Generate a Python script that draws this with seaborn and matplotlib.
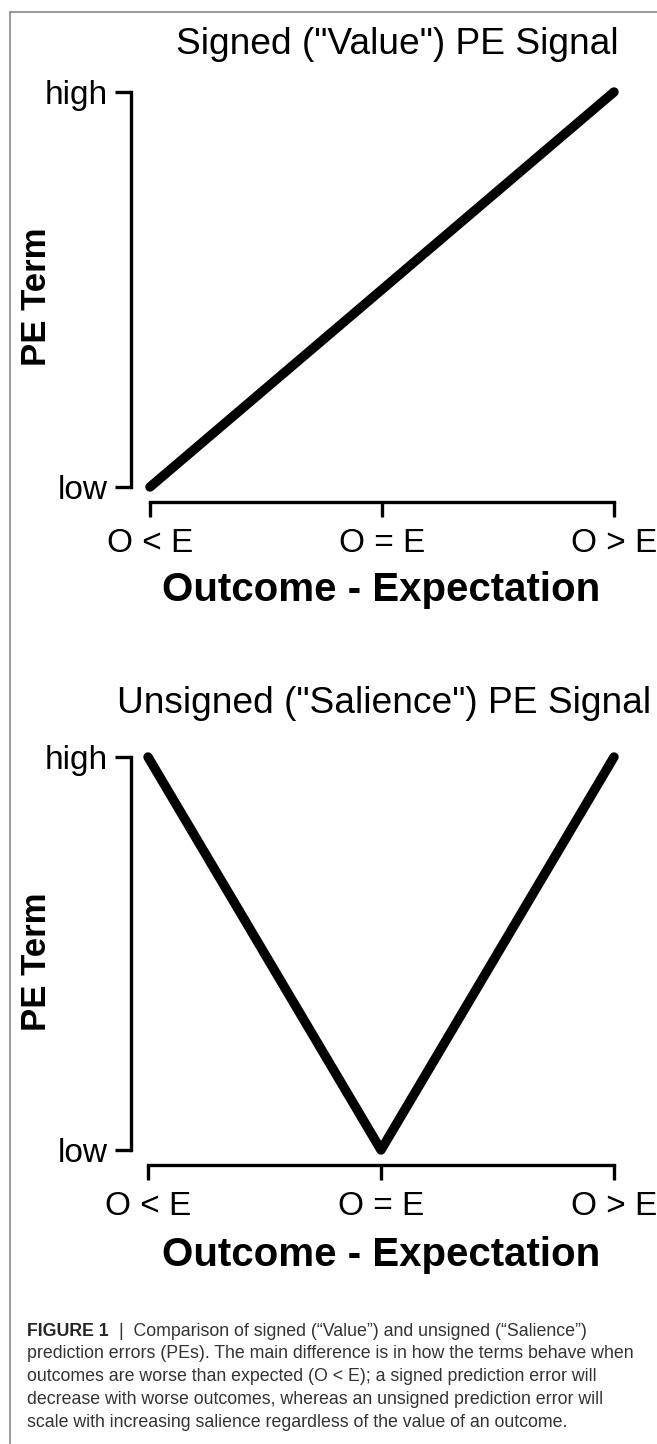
import matplotlib
matplotlib.use("Agg")
import matplotlib.pyplot as plt
from matplotlib.lines import Line2D
import seaborn as sns
import pandas as pd

# data
outcome_pos = [-1, 0, 1]
outcome_labels = ["O < E", "O = E", "O > E"]
signed_pe = [0.0, 0.5, 1.0]
unsigned_pe = [1.0, 0.0, 1.0]
pe_ticks = [0, 1]
pe_labels = ["low", "high"]

titles = ['Signed ("Value") PE Signal', 'Unsigned ("Salience") PE Signal']
caption_lines = [
    "prediction errors (PEs). The main difference is in how the terms behave when",
    "outcomes are worse than expected (O < E); a signed prediction error will",
    "decrease with worse outcomes, whereas an unsigned prediction error will",
    "scale with increasing salience regardless of the value of an outcome.",
]

sns.set_style("white")
plt.rcParams["font.family"] = ["Liberation Sans", "DejaVu Sans"]
plt.rcParams["text.color"] = "black"
plt.rcParams["axes.labelcolor"] = "black"

W, H = 657, 1444
fig = plt.figure(figsize=(W / 100, H / 100), dpi=100)


def fx(px):
    return px / W


def fy(py):
    return 1 - py / H


def panel(left, right, top, bottom, values, title, title_xy, xlabel_y, ylabel_y, off_left):
    ax = fig.add_axes([fx(left), fy(bottom), fx(right) - fx(left), fy(top) - fy(bottom)])
    df = pd.DataFrame({"x": outcome_pos, "y": values})
    sns.lineplot(data=df, x="x", y="y", ax=ax, color="black", linewidth=6.8,
                 solid_capstyle="round", solid_joinstyle="round", clip_on=False)
    ax.set_xlim(-1, 1)
    ax.set_ylim(0, 1)
    sns.despine(ax=ax)
    ax.spines["left"].set_position(("outward", off_left * 0.72))
    ax.spines["bottom"].set_position(("outward", 15 * 0.72))
    ax.spines["left"].set_bounds(0, 1)
    ax.spines["bottom"].set_bounds(-1, 1)
    for s in ("left", "bottom"):
        ax.spines[s].set_linewidth(2.4)
        ax.spines[s].set_color("black")
        ax.spines[s].set_capstyle("projecting")
    ax.set_xticks(outcome_pos)
    ax.set_xticklabels(outcome_labels)
    ax.set_yticks(pe_ticks)
    ax.set_yticklabels(pe_labels)
    ax.tick_params(axis="both", direction="out", width=2.4, color="black",
                   labelsize=24, labelcolor="black", bottom=True, left=True)
    ax.tick_params(axis="x", length=11, pad=8)
    ax.tick_params(axis="y", length=11.5, pad=5)
    ax.set_xlabel("Outcome - Expectation", fontsize=29, fontweight="bold")
    ax.xaxis.set_label_coords(fx(381), fy(xlabel_y), transform=fig.transFigure)
    ax.xaxis.label.set_va("center")
    ax.set_ylabel("PE Term", fontsize=25, fontweight="bold")
    ax.yaxis.set_label_coords(fx(37), fy(ylabel_y), transform=fig.transFigure)
    ax.yaxis.label.set_va("center")
    fig.text(fx(title_xy[0]), fy(title_xy[1]), title, fontsize=26.7,
             ha="center", va="center")
    ax.patch.set_alpha(0)
    return ax


panel(150, 614, 92, 487, signed_pe, titles[0], (397, 45), 590, 297, 19)
panel(148, 614, 757, 1150, unsigned_pe, titles[1], (384, 703), 1255, 962, 17)

# frame of the figure box
fig.add_artist(Line2D([fx(10), 1], [fy(12), fy(12)], color="#8a8a8a", lw=1.2))
fig.add_artist(Line2D([fx(10), fx(10)], [fy(12), 0], color="#8a8a8a", lw=1.2))

# caption
cap_x = fx(27)
fig.text(cap_x, fy(1331), "FIGURE 1", fontsize=12.8, fontweight="bold",
         color="#262626", va="center")
fig.text(fx(119), fy(1331), "|  Comparison of signed (\u201cValue\u201d) and unsigned (\u201cSalience\u201d)",
         fontsize=12.8, color="#333333", va="center")
for i, line in enumerate(caption_lines):
    fig.text(cap_x, fy(1354 + 22.7 * i), line, fontsize=12.8, color="#333333",
             va="center")

fig.savefig("out.png", dpi=100)
